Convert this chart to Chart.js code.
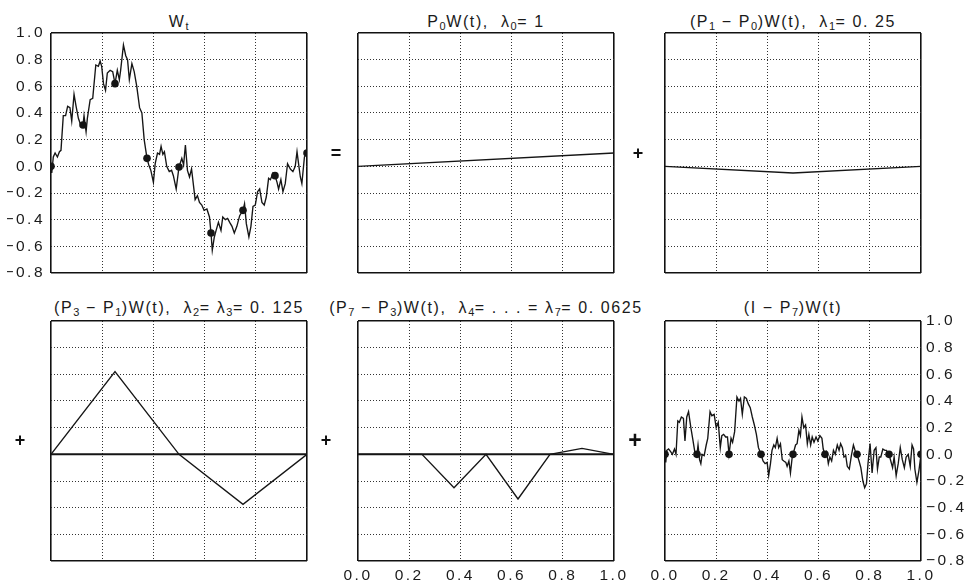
<!DOCTYPE html>
<html><head><meta charset="utf-8">
<script src="https://cdn.jsdelivr.net/npm/chart.js@4"></script>
<style>
body{margin:0;width:964px;height:581px;background:#fff;position:relative;overflow:hidden;font-family:"Liberation Sans",Arial,sans-serif;}
canvas{position:absolute;}
.t{position:absolute;font-size:16px;letter-spacing:1.6px;color:#1a1a1a;white-space:nowrap;transform:translate(-50%,-50%);line-height:18px;}
.t sub{font-size:11px;vertical-align:-3px;line-height:0;letter-spacing:0.5px;}
.op{position:absolute;font-size:18px;font-weight:bold;color:#111;transform:translate(-50%,-50%);line-height:18px;will-change:transform;}
</style></head><body>
<div class="t" style="left:179px;top:21.5px">W<sub>t</sub></div>
<div class="t" style="left:486px;top:21.5px">P<sub>0</sub>W(t),&nbsp; λ<sub>0</sub>= 1</div>
<div class="t" style="left:793px;top:21.5px">(P<sub>1</sub> − P<sub>0</sub>)W(t),&nbsp; λ<sub>1</sub>= 0. 25</div>
<div class="t" style="left:179px;top:308px">(P<sub>3</sub> − P<sub>1</sub>)W(t),&nbsp; λ<sub>2</sub>= λ<sub>3</sub>= 0. 125</div>
<div class="t" style="left:486px;top:308px">(P<sub>7</sub> − P<sub>3</sub>)W(t),&nbsp; λ<sub>4</sub>= . . . = λ<sub>7</sub>= 0. 0625</div>
<div class="t" style="left:793px;top:308px">(I − P<sub>7</sub>)W(t)</div>
<div class="op" style="left:336px;top:153px">=</div>
<div class="op" style="left:638px;top:153px">+</div>
<div class="op" style="left:20px;top:440px">+</div>
<div class="op" style="left:326px;top:440px">+</div>
<div class="op" style="left:635px;top:440px;font-size:23px">+</div>
<canvas id="c1"></canvas><canvas id="c2"></canvas><canvas id="c3"></canvas>
<canvas id="c4"></canvas><canvas id="c5"></canvas><canvas id="c6"></canvas>
<script>
// ---- data ----
const xTicks = [0, 0.2, 0.4, 0.6, 0.8, 1.0];
const yTicks = [-0.8, -0.6, -0.4, -0.2, 0, 0.2, 0.4, 0.6, 0.8, 1.0];
const knotT = [0, 0.125, 0.25, 0.375, 0.5, 0.625, 0.75, 0.875, 1];
const knotW = [0, 0.31, 0.62, 0.06, -0.005, -0.50, -0.33, -0.07, 0.10];
const knotZero = [0, 0, 0, 0, 0, 0, 0, 0, 0];

const tW = [0,0.003,0.009,0.016,0.025,0.033,0.039,0.048,0.057,0.065,
  0.074,0.081,0.090,0.098,0.107,0.116,0.125,0.129,0.137,0.142,
  0.153,0.163,0.175,0.185,0.192,0.198,0.205,0.213,0.220,0.231,
  0.241,0.250,0.259,0.267,0.272,0.283,0.292,0.299,0.306,0.316,
  0.325,0.335,0.346,0.355,0.364,0.375,0.382,0.390,0.400,0.407,
  0.416,0.424,0.430,0.437,0.443,0.452,0.462,0.471,0.478,0.489,
  0.500,0.511,0.518,0.525,0.533,0.541,0.549,0.557,0.563,0.572,
  0.580,0.589,0.598,0.609,0.619,0.625,0.630,0.638,0.645,0.654,
  0.664,0.671,0.681,0.690,0.698,0.707,0.716,0.726,0.737,0.750,
  0.756,0.763,0.773,0.781,0.789,0.798,0.807,0.815,0.824,0.833,
  0.841,0.850,0.857,0.867,0.875,0.883,0.889,0.898,0.906,0.915,
  0.924,0.935,0.945,0.954,0.961,0.967,0.974,0.980,0.990,1.000];
const W = [0,-0.05,0.07,0.10,0.07,0.11,0.12,0.38,0.38,0.45,
  0.44,0.34,0.54,0.45,0.36,0.31,0.31,0.38,0.26,0.36,
  0.50,0.51,0.76,0.75,0.79,0.75,0.62,0.57,0.70,0.72,
  0.71,0.62,0.72,0.65,0.72,0.91,0.83,0.80,0.65,0.77,
  0.71,0.60,0.44,0.40,0.20,0.06,0.01,-0.03,-0.12,0.02,
  0.10,0.09,0.15,0.09,0.11,0.00,-0.04,-0.03,-0.07,-0.17,
  -0.005,0.06,0.01,0.16,-0.03,-0.08,-0.02,-0.15,-0.25,-0.22,
  -0.27,-0.29,-0.33,-0.32,-0.38,-0.50,-0.63,-0.53,-0.48,-0.42,
  -0.48,-0.38,-0.40,-0.39,-0.42,-0.45,-0.50,-0.45,-0.37,-0.33,
  -0.28,-0.43,-0.53,-0.45,-0.30,-0.29,-0.19,-0.17,-0.27,-0.29,
  -0.23,-0.09,-0.10,-0.05,-0.07,-0.12,-0.17,-0.10,-0.19,-0.13,
  0.02,-0.02,-0.04,0.00,0.11,0.02,-0.08,-0.13,0.07,0.10];

const tP0 = [0, 1];
const P0 = [0, 0.10];
const tP1 = [0, 0.5, 1];
const P1P0 = [0, -0.05, 0];
const tP3 = [0, 0.25, 0.5, 0.75, 1];
const P3P1 = [0, 0.62, 0, -0.375, 0];
const P7P3 = [0, 0, 0, -0.25, 0, -0.335, 0, 0.045, 0];
const tZero = [0, 1];
const zeroLine = [0, 0];

const tR = [0,0.003,0.007,0.014,0.022,0.029,0.037,0.043,0.050,0.056,
  0.064,0.072,0.078,0.085,0.092,0.101,0.108,0.118,0.125,0.129,
  0.135,0.140,0.145,0.153,0.161,0.167,0.176,0.183,0.192,0.200,
  0.208,0.216,0.222,0.229,0.237,0.244,0.250,0.258,0.264,0.272,
  0.281,0.289,0.295,0.302,0.310,0.318,0.325,0.333,0.341,0.349,
  0.357,0.365,0.375,0.383,0.391,0.399,0.405,0.412,0.418,0.425,
  0.431,0.438,0.444,0.451,0.458,0.464,0.472,0.477,0.484,0.490,
  0.497,0.500,0.510,0.516,0.523,0.529,0.535,0.542,0.549,0.556,
  0.562,0.569,0.575,0.582,0.590,0.597,0.605,0.613,0.618,0.625,
  0.631,0.638,0.644,0.651,0.658,0.665,0.673,0.680,0.686,0.693,
  0.699,0.706,0.712,0.720,0.728,0.736,0.744,0.750,0.758,0.765,
  0.773,0.780,0.787,0.793,0.801,0.809,0.817,0.824,0.830,0.837,
  0.843,0.851,0.859,0.865,0.872,0.875,0.882,0.889,0.895,0.903,
  0.911,0.919,0.927,0.935,0.942,0.950,0.958,0.965,0.971,0.976,
  0.984,0.992,1.000];
const R = [0,-0.06,0.03,0.04,0.02,0.00,0.04,0.00,0.25,0.24,
  0.28,0.27,0.10,0.28,0.32,0.20,0.12,0.00,0.00,0.07,
  -0.04,-0.07,0.00,-0.01,0.07,0.12,0.32,0.29,0.30,0.20,
  0.24,0.05,0.14,0.15,0.13,0.13,0.00,0.12,0.09,0.17,
  0.43,0.40,0.42,0.30,0.43,0.42,0.38,0.35,0.28,0.22,
  0.15,0.05,0.00,-0.05,-0.07,-0.06,-0.16,-0.07,0.03,0.07,
  0.05,0.12,0.05,0.08,-0.04,-0.05,-0.06,-0.09,-0.05,-0.14,
  -0.02,0.00,0.07,0.08,0.18,0.14,0.28,0.20,0.22,0.08,
  0.15,0.07,0.13,0.09,0.13,0.10,0.14,0.12,0.04,0.00,
  0.02,-0.07,-0.02,-0.05,0.03,0.00,0.07,0.03,0.08,0.05,
  -0.02,-0.01,-0.09,-0.11,-0.01,0.07,0.02,0.00,-0.05,-0.10,
  -0.20,-0.25,-0.22,-0.07,0.08,-0.14,0.03,0.05,-0.11,-0.02,
  -0.02,0.04,0.03,0.03,0.00,0.00,-0.05,-0.10,-0.02,-0.16,
  -0.07,0.05,-0.04,-0.10,-0.02,0.00,-0.09,0.07,0.04,-0.11,
  -0.21,-0.12,0.00];

// ---- drawing ----
const pts = (xs, ys) => xs.map((x, i) => ({x, y: ys[i]}));
const INK = '#151515';
const FONT = {family: '"Liberation Sans", Arial, sans-serif', size: 15.5};
const PAD = 20, YW = 44, XH = 24, PW = 256, PH = 240;

const lineDs = (xs, ys, w) => ({data: pts(xs, ys), showLine: true, pointRadius: 0,
  borderColor: INK, borderWidth: w || 1.35, tension: 0, clip: 0});
const dotDs = (xs, ys) => ({data: pts(xs, ys), showLine: false, pointRadius: 3.8,
  pointBackgroundColor: INK, pointBorderWidth: 0, clip: 0});

const edge = c => c.index === 0 || c.index === c.scale.ticks.length - 1;
const gridOpts = {
  color: c => edge(c) ? '#111' : '#333',
  lineWidth: c => edge(c) ? 1.6 : 1,
  drawTicks: false
};
const borderOpts = {display: false, dash: c => edge(c) ? [] : [1, 2]};
const fmt = v => (v < 0 ? '\u2212' : '') + Math.abs(v).toFixed(1);

const spacing = {
  id: 'spacing',
  beforeDraw(chart) { chart.ctx.letterSpacing = '2.5px'; },
  afterDraw(chart) { chart.ctx.letterSpacing = '0px'; }
};

const panels = [
  {id: 'c1', left: 51, top: 33, yPos: 'left', xLab: false, ds: [lineDs(tW, W), dotDs(knotT, knotW)]},
  {id: 'c2', left: 358, top: 33, ds: [lineDs(tP0, P0)]},
  {id: 'c3', left: 665, top: 33, ds: [lineDs(tP1, P1P0)]},
  {id: 'c4', left: 51, top: 321, ds: [lineDs(tZero, zeroLine, 2), lineDs(tP3, P3P1)]},
  {id: 'c5', left: 358, top: 321, xLab: true, ds: [lineDs(tZero, zeroLine, 2), lineDs(knotT, P7P3)]},
  {id: 'c6', left: 665, top: 321, xLab: true, yPos: 'right', ds: [lineDs(tR, R), dotDs(knotT, knotZero)]}
];

panels.forEach(p => {
  const yLab = !!p.yPos;
  const yw = yLab ? YW : 0;
  const xh = p.xLab ? XH : 0;
  const cv = document.getElementById(p.id);
  const w = PW + 2 * PAD + yw, h = PH + 2 * PAD + xh;
  cv.width = w; cv.height = h;
  cv.style.width = w + 'px'; cv.style.height = h + 'px';
  cv.style.left = (p.left - PAD - (p.yPos === 'left' ? YW : 0)) + 'px';
  cv.style.top = (p.top - PAD) + 'px';
  new Chart(cv, {
    type: 'scatter',
    data: {datasets: p.ds},
    plugins: [spacing],
    options: {
      responsive: false, animation: false, devicePixelRatio: 1,
      layout: {padding: PAD},
      plugins: {legend: {display: false}, tooltip: {enabled: false}},
      scales: {
        x: {type: 'linear', min: 0, max: 1,
          afterBuildTicks: s => { s.ticks = xTicks.map(v => ({value: v})); },
          afterFit: s => { s.height = xh; },
          grid: gridOpts, border: borderOpts,
          ticks: {display: !!p.xLab, font: FONT, color: '#1a1a1a', padding: 5, maxRotation: 0, callback: fmt}},
        y: {type: 'linear', position: p.yPos || 'left', min: -0.8, max: 1.0,
          afterBuildTicks: s => { s.ticks = yTicks.map(v => ({value: v})); },
          afterFit: s => { s.width = yw; },
          grid: gridOpts, border: borderOpts,
          ticks: {display: yLab, font: FONT, color: '#1a1a1a', padding: p.yPos === 'right' ? 5 : 6, callback: fmt}}
      }
    }
  });
});
</script>
</body></html>
